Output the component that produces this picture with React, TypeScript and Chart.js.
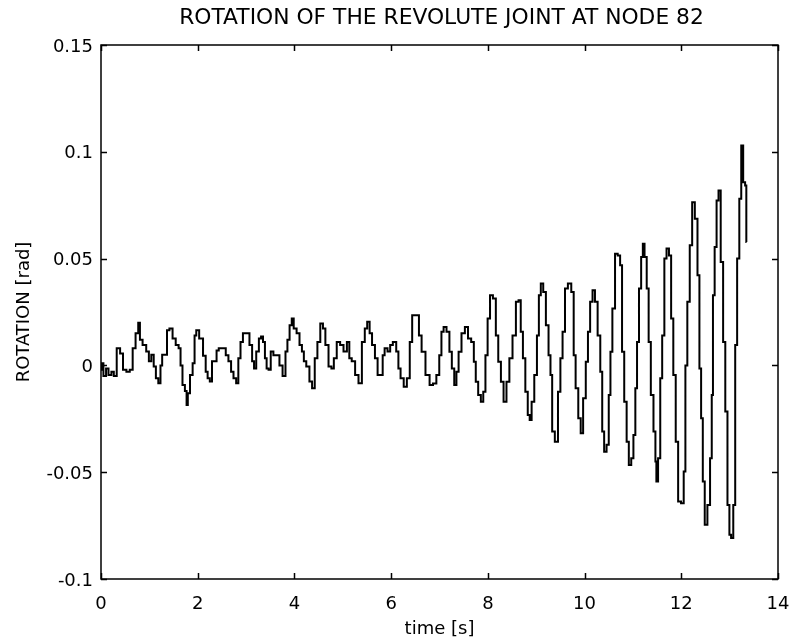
import { useEffect, useRef } from "react";
import { Chart, registerables } from "chart.js";

Chart.register(...registerables);

const TITLE = "ROTATION OF THE REVOLUTE JOINT AT NODE 82";
const X_TITLE = "time [s]";
const Y_TITLE = "ROTATION [rad]";

const xTicks = [0, 2, 4, 6, 8, 10, 12, 14];
const xTickLabels = ["0", "2", "4", "6", "8", "10", "12", "14"];
const yTicks = [-0.1, -0.05, 0, 0.05, 0.1, 0.15];
const yTickLabels = ["-0.1", "-0.05", "0", "0.05", "0.1", "0.15"];

const time = [
  0.0, 0.02, 0.08, 0.13, 0.18, 0.25, 0.28, 0.37, 0.42, 0.49, 0.56, 0.63, 0.68, 0.75, 0.79, 0.82,
  0.9, 0.97, 1.01, 1.07, 1.11, 1.16, 1.21, 1.25, 1.28, 1.35, 1.38, 1.45, 1.51, 1.58, 1.63, 1.66,
  1.71, 1.76, 1.78, 1.81, 1.87, 1.92, 1.95, 1.99, 2.07, 2.15, 2.18, 2.23, 2.27, 2.32, 2.37, 2.41,
  2.46, 2.56, 2.6, 2.67, 2.71, 2.77, 2.82, 2.86, 2.91, 2.96, 3.04, 3.1, 3.15, 3.18, 3.24, 3.29,
  3.33, 3.37, 3.41, 3.44, 3.49, 3.53, 3.6, 3.66, 3.72, 3.79, 3.84, 3.87, 3.93, 3.96, 4.01, 4.08,
  4.13, 4.18, 4.21, 4.28, 4.34, 4.39, 4.45, 4.5, 4.57, 4.61, 4.67, 4.74, 4.79, 4.84, 4.91, 4.98,
  5.05, 5.12, 5.15, 5.22, 5.29, 5.36, 5.43, 5.48, 5.53, 5.58, 5.63, 5.7, 5.74, 5.81, 5.84, 5.89,
  5.96, 6.0, 6.07, 6.14, 6.16, 6.23, 6.29, 6.36, 6.41, 6.46, 6.55, 6.6, 6.66, 6.76, 6.83, 6.9,
  6.97, 7.02, 7.06, 7.11, 7.18, 7.23, 7.28, 7.33, 7.37, 7.42, 7.49, 7.56, 7.62, 7.69, 7.73, 7.77,
  7.83, 7.88, 7.93, 7.97, 8.02, 8.07, 8.14, 8.19, 8.24, 8.3, 8.35, 8.42, 8.47, 8.55, 8.61, 8.66,
  8.7, 8.75, 8.8, 8.85, 8.88, 8.93, 8.99, 9.04, 9.07, 9.12, 9.17, 9.23, 9.28, 9.31, 9.35, 9.42,
  9.48, 9.52, 9.57, 9.62, 9.69, 9.76, 9.79, 9.84, 9.9, 9.94, 10.0, 10.05, 10.09, 10.14, 10.19, 10.24,
  10.3, 10.35, 10.38, 10.43, 10.48, 10.52, 10.55, 10.6, 10.66, 10.71, 10.76, 10.79, 10.85, 10.89, 10.94, 10.99,
  11.03, 11.07, 11.1, 11.15, 11.19, 11.22, 11.26, 11.31, 11.34, 11.4, 11.45, 11.48, 11.49, 11.55, 11.58, 11.63,
  11.67, 11.72, 11.77, 11.81, 11.86, 11.91, 11.96, 12.03, 12.07, 12.1, 12.15, 12.2, 12.25, 12.31, 12.36, 12.39,
  12.43, 12.46, 12.51, 12.57, 12.62, 12.64, 12.67, 12.71, 12.75, 12.79, 12.84, 12.89, 12.93, 12.98, 13.01, 13.05,
  13.1, 13.13, 13.18, 13.22, 13.26, 13.3, 13.34, 13.35,
];

const rotation = [
  -0.002, 0.001, -0.005, -0.0015, -0.0045, -0.003, -0.005, 0.008, 0.0056, -0.002, -0.003, -0.002, 0.008, 0.015, 0.02, 0.012,
  0.0095, 0.0065, 0.002, 0.005, -0.0005, -0.006, -0.0084, 0.0, 0.005, 0.005, 0.0165, 0.0173, 0.0126, 0.0095, 0.008, 0.0,
  -0.0092, -0.012, -0.0185, -0.013, -0.0045, 0.001, 0.014, 0.0165, 0.0126, 0.0045, -0.003, -0.006, -0.0075, 0.002, 0.002, 0.007,
  0.008, 0.008, 0.0048, 0.002, -0.003, -0.006, -0.0084, 0.0033, 0.011, 0.015, 0.015, 0.0095, 0.002, -0.0014, 0.0065, 0.0126,
  0.0135, 0.011, 0.0033, -0.0014, -0.002, 0.0065, 0.0048, 0.0048, 0.0, -0.005, 0.0065, 0.012, 0.0188, 0.022, 0.0173, 0.015,
  0.0095, 0.0065, 0.002, -0.0005, -0.0075, -0.0107, 0.0033, 0.011, 0.0196, 0.0173, 0.0095, -0.0005, -0.0014, 0.0033, 0.011, 0.0095,
  0.0065, 0.011, 0.0033, 0.002, -0.0045, -0.0084, 0.011, 0.0173, 0.0204, 0.015, 0.0095, 0.0033, -0.0045, -0.0045, 0.0048, 0.008,
  0.0065, 0.0095, 0.011, 0.0065, -0.0014, -0.006, -0.01, -0.006, 0.011, 0.0235, 0.0235, 0.014, 0.0064, -0.0045, -0.0092, -0.0085,
  -0.0045, 0.0048, 0.0157, 0.018, 0.0157, 0.0064, -0.0014, -0.0092, -0.003, 0.0064, 0.015, 0.018, 0.0126, 0.011, 0.0017, -0.0076,
  -0.0139, -0.017, -0.0123, 0.0048, 0.022, 0.0329, 0.0313, 0.014, 0.0017, -0.0076, -0.017, -0.0076, 0.0033, 0.014, 0.0298, 0.0305,
  0.0157, 0.0033, -0.0123, -0.0232, -0.0256, -0.017, -0.0045, 0.014, 0.0329, 0.0383, 0.0344, 0.0188, 0.0048, -0.0045, -0.031, -0.0357,
  -0.0123, 0.0033, 0.0157, 0.036, 0.0383, 0.0344, 0.0048, -0.0107, -0.0248, -0.0318, -0.0154, 0.0017, 0.0157, 0.0298, 0.0352, 0.0298,
  0.014, -0.003, -0.031, -0.0404, -0.0372, -0.0139, 0.0064, 0.0266, 0.0523, 0.0515, 0.0469, 0.0064, -0.017, -0.0357, -0.0466, -0.0435,
  -0.0326, -0.0107, 0.011, 0.036, 0.0508, 0.057, 0.0508, 0.036, 0.011, -0.0139, -0.031, -0.045, -0.0544, -0.0435, -0.006, 0.014,
  0.05, 0.0547, 0.0515, 0.022, -0.0045, -0.0357, -0.0637, -0.0645, -0.0497, 0.0, 0.0298, 0.0562, 0.0764, 0.0687, 0.0422, -0.0014,
  -0.0248, -0.0544, -0.0746, -0.0653, -0.0435, -0.0139, 0.0329, 0.0554, 0.0772, 0.0819, 0.0484, 0.011, -0.0216, -0.0653, -0.0793, -0.0808,
  -0.0653, 0.0095, 0.05, 0.078, 0.103, 0.0858, 0.0842, 0.0578,
];

const FONT = "DejaVu Sans";

export default function App() {
  const ref = useRef<HTMLCanvasElement>(null);

  useEffect(() => {
    if (!ref.current) return;

    const framePlugin = {
      id: "matlabFrame",
      afterDraw(chart: any) {
        const { ctx, chartArea: a } = chart;
        const xs = chart.scales.x;
        const ys = chart.scales.y;
        ctx.save();
        ctx.strokeStyle = "#000";
        ctx.lineWidth = 1.5;
        ctx.strokeRect(a.left, a.top, a.right - a.left, a.bottom - a.top);
        const tl = 6;
        ctx.beginPath();
        xTicks.forEach((v) => {
          const p = Math.round(xs.getPixelForValue(v)) + 0.5;
          ctx.moveTo(p, a.bottom);
          ctx.lineTo(p, a.bottom - tl);
          ctx.moveTo(p, a.top);
          ctx.lineTo(p, a.top + tl);
        });
        yTicks.forEach((v) => {
          const p = Math.round(ys.getPixelForValue(v)) + 0.5;
          ctx.moveTo(a.left, p);
          ctx.lineTo(a.left + tl, p);
          ctx.moveTo(a.right, p);
          ctx.lineTo(a.right - tl, p);
        });
        ctx.stroke();

        ctx.fillStyle = "#000";
        ctx.font = `18px "${FONT}"`;
        ctx.textAlign = "center";
        ctx.textBaseline = "alphabetic";
        xTicks.forEach((v, i) => {
          ctx.fillText(xTickLabels[i], xs.getPixelForValue(v), a.bottom + 30);
        });
        ctx.textAlign = "right";
        yTicks.forEach((v, i) => {
          ctx.fillText(yTickLabels[i], a.left - 8, ys.getPixelForValue(v) + 6.5);
        });

        ctx.textAlign = "center";
        ctx.fillText(X_TITLE, (a.left + a.right) / 2, 634);

        ctx.save();
        ctx.translate(29, 312);
        ctx.rotate(-Math.PI / 2);
        ctx.fillText(Y_TITLE, 0, 0);
        ctx.restore();

        ctx.font = `21.8px "${FONT}"`;
        ctx.fillText(TITLE, (a.left + a.right) / 2 + 2, 24);
        ctx.restore();
      },
    };

    const chart = new Chart(ref.current, {
      type: "line",
      data: {
        datasets: [
          {
            data: time.map((t, i) => ({ x: t, y: rotation[i] })),
            borderColor: "#000",
            borderWidth: 2,
            pointRadius: 0,
            tension: 0,
            stepped: "middle",
            fill: false,
          },
        ],
      },
      options: {
        animation: false,
        responsive: false,
        devicePixelRatio: 1,
        parsing: false as any,
        layout: { padding: { left: 0, right: 15, top: 45, bottom: 0 } },
        plugins: {
          legend: { display: false },
          title: { display: false },
          tooltip: { enabled: false },
        },
        scales: {
          x: {
            type: "linear",
            min: 0,
            max: 14,
            grid: { display: false, drawTicks: false },
            border: { display: false },
            ticks: { display: false },
            afterBuildTicks: (s: any) => {
              s.ticks = xTicks.map((v) => ({ value: v }));
            },
            afterFit: (s: any) => {
              s.height = 63;
            },
          },
          y: {
            type: "linear",
            min: -0.1,
            max: 0.15,
            grid: { display: false, drawTicks: false },
            border: { display: false },
            ticks: { display: false },
            afterBuildTicks: (s: any) => {
              s.ticks = yTicks.map((v) => ({ value: v }));
            },
            afterFit: (s: any) => {
              s.width = 101;
            },
          },
        },
      },
      plugins: [framePlugin],
    });

    return () => chart.destroy();
  }, []);

  return (
    <div
      style={{
        position: "absolute",
        left: 0,
        top: 0,
        width: 793,
        height: 642,
        background: "#fff",
      }}
    >
      <canvas ref={ref} width={793} height={642} style={{ display: "block" }} />
    </div>
  );
}
